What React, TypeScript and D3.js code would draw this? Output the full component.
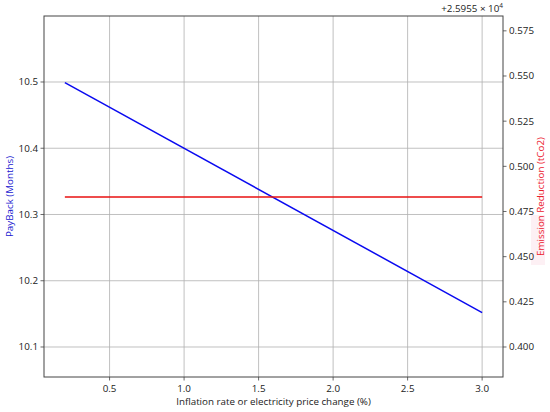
import React from "react";
import * as d3 from "d3";

const inflation = [0.2, 3.0];
const payback = [10.499, 10.152];
const emission = [25955.483, 25955.483];
const xTicks = [0.5, 1.0, 1.5, 2.0, 2.5, 3.0];
const yLeftTicks = [10.1, 10.2, 10.3, 10.4, 10.5];
const yRightTicks = [0.4, 0.425, 0.45, 0.475, 0.5, 0.525, 0.55, 0.575];
const offset = 25955;

const W = 550, H = 412;
const L = 44, R = 503, T = 16, B = 377;
const FONT = "'Open Sans', sans-serif";
const FS = 9.8;

export default function App() {
  const x = d3.scaleLinear().domain([0.06, 3.14]).range([L, R]);
  const yL = d3.scaleLinear().domain([10.0547, 10.5996]).range([B, T]);
  const yR = d3.scaleLinear().domain([0.38339, 0.58321]).range([B, T]);

  const blueLine = d3.line<number>()
    .x((_, i) => x(inflation[i]))
    .y((d) => yL(d));
  const redLine = d3.line<number>()
    .x((_, i) => x(inflation[i]))
    .y((d) => yR(d - offset));

  return (
    <svg width={W} height={H} style={{ position: "absolute", left: 0, top: 0 }} fontFamily={FONT}>
      <defs>
        <linearGradient id="lblgrad" gradientUnits="userSpaceOnUse" x1="0" y1="262" x2="0" y2="135">
          <stop offset="0" stopColor="#85602a" />
          <stop offset="0.5" stopColor="#b44a2a" />
          <stop offset="1" stopColor="#ea1f2a" />
        </linearGradient>
      </defs>
      <rect x={0} y={0} width={W} height={H} fill="#fff" />
      <rect x={531} y={215} width={14} height={50} fill="#fdf0f4" />
      {xTicks.map((t) => (
        <line key={"gx" + t} x1={x(t)} x2={x(t)} y1={T} y2={B} stroke="#b0b0b0" strokeWidth={0.8} />
      ))}
      {yLeftTicks.map((t) => (
        <line key={"gy" + t} x1={L} x2={R} y1={yL(t)} y2={yL(t)} stroke="#b0b0b0" strokeWidth={0.8} />
      ))}
      <path d={blueLine(payback) || ""} fill="none" stroke="#0a0af0" strokeWidth={1.5} />
      <path d={redLine(emission) || ""} fill="none" stroke="#e81010" strokeWidth={1.5} />
      <rect x={L} y={T} width={R - L} height={B - T} fill="none" stroke="#444" strokeWidth={1} />
      {xTicks.map((t) => (
        <g key={"xt" + t}>
          <line x1={x(t)} x2={x(t)} y1={B} y2={B + 3.5} stroke="#444" strokeWidth={0.8} />
          <text x={x(t)} y={B + 15} textAnchor="middle" fontSize={FS} fill="#222">{t.toFixed(1)}</text>
        </g>
      ))}
      {yLeftTicks.map((t) => (
        <g key={"yl" + t}>
          <line x1={L - 3.5} x2={L} y1={yL(t)} y2={yL(t)} stroke="#444" strokeWidth={0.8} />
          <text x={L - 6} y={yL(t) + 3.5} textAnchor="end" fontSize={FS} fill="#222">{t.toFixed(1)}</text>
        </g>
      ))}
      {yRightTicks.map((t) => (
        <g key={"yr" + t}>
          <line x1={R} x2={R + 3.5} y1={yR(t)} y2={yR(t)} stroke="#444" strokeWidth={0.8} />
          <text x={R + 6} y={yR(t) + 3.5} textAnchor="start" fontSize={FS} fill="#222">{t.toFixed(3)}</text>
        </g>
      ))}
      <text x={R} y={12} textAnchor="end" fontSize={FS} fill="#222">
        +2.5955 × 10<tspan dy={-4} fontSize={6.5}>4</tspan>
      </text>
      <text x={(L + R) / 2} y={405} textAnchor="middle" fontSize={FS} fill="#222">
        Inflation rate or electricity price change (%)
      </text>
      <text transform={`translate(13,${(T + B) / 2}) rotate(-90)`} textAnchor="middle" fontSize={FS} fill="#2020d0">
        PayBack (Months)
      </text>
      <text transform={`translate(544,${(T + B) / 2}) rotate(-90)`} textAnchor="middle" fontSize={FS} fill="url(#lblgrad)">
        Emission Reduction (tCo2)
      </text>
    </svg>
  );
}
